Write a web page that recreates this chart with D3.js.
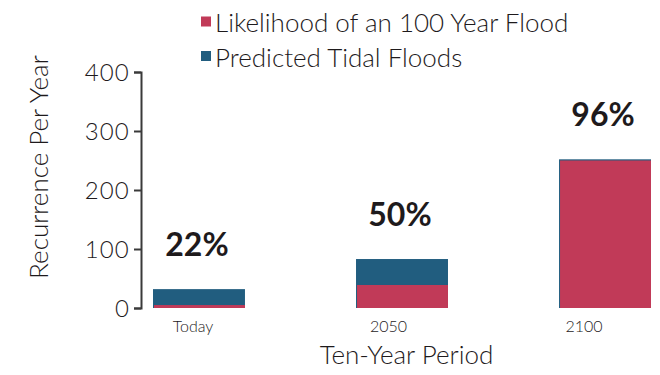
<!DOCTYPE html>
<html>
<head>
<meta charset="utf-8">
<script src="https://cdn.jsdelivr.net/npm/d3@7"></script>
<style>
  html, body { margin: 0; padding: 0; background: #fff; }
  svg { display: block; font-family: Lato, "Open Sans", sans-serif; }
</style>
</head>
<body>
<svg id="chart" width="660" height="375"></svg>
<script>
// Flood recurrence by period
const periods = ["Today", "2050", "2100"];
const tidalFloods = [32, 83, 252];        // Predicted Tidal Floods (per year)
const hundredYearFlood = [5, 39, 250];    // Likelihood of an 100 Year Flood
const shareLabels = ["22%", "50%", "96%"];
const yTicks = [0, 100, 200, 300, 400];
const seriesNames = ["Likelihood of an 100 Year Flood", "Predicted Tidal Floods"];

const RED = "#c13a58";
const BLUE = "#215d7f";
const INK = "#1e1a1c";
const FONT = "Lato, 'Open Sans', sans-serif";

const svg = d3.select("#chart");

const y = d3.scaleLinear().domain([0, 400]).range([308, 72]);
const x = d3.scaleBand().domain(periods).range([153, 651]).paddingInner(0.547).paddingOuter(0);
const xLabel = d3.scalePoint().domain(periods).range([192.5, 583.5]);

// y axis
const yAxis = svg.append("g")
  .attr("transform", "translate(141,0)")
  .call(d3.axisLeft(y).tickValues(yTicks).tickSize(7).tickPadding(4))
  .attr("font-family", FONT);
yAxis.select(".domain").attr("stroke", "#3a3a3a").attr("stroke-width", 2);
yAxis.selectAll(".tick line").attr("stroke", "#3a3a3a").attr("stroke-width", 2);
yAxis.selectAll(".tick text")
  .attr("fill", INK)
  .attr("dy", "0.36em")
  .style("font-size", "24px")
  .style("font-weight", 300)
  .style("letter-spacing", "1.2px");

// x axis labels (no line)
const xAxis = svg.append("g")
  .attr("transform", "translate(0,316)")
  .call(d3.axisBottom(xLabel).tickSize(0).tickPadding(0))
  .attr("font-family", FONT);
xAxis.select(".domain").remove();
xAxis.selectAll(".tick text")
  .attr("fill", INK)
  .attr("dy", "1em")
  .style("font-size", "16px")
  .style("font-weight", 300);

// bars: tidal floods behind, 100-year flood in front
svg.append("g").selectAll("rect")
  .data(periods)
  .join("rect")
  .attr("x", d => x(d))
  .attr("width", x.bandwidth())
  .attr("y", (d, i) => y(tidalFloods[i]))
  .attr("height", (d, i) => y(0) - y(tidalFloods[i]))
  .attr("fill", BLUE);

svg.append("g").selectAll("rect")
  .data(periods)
  .join("rect")
  .attr("x", d => x(d) + 1)
  .attr("width", x.bandwidth() - 1)
  .attr("y", (d, i) => y(hundredYearFlood[i]))
  .attr("height", (d, i) => y(0) - y(hundredYearFlood[i]))
  .attr("fill", RED);

// share labels above each bar
svg.append("g").selectAll("text")
  .data(periods)
  .join("text")
  .attr("x", d => x(d) + x.bandwidth() / 2 - 2)
  .attr("y", (d, i) => y(tidalFloods[i]) - 33)
  .attr("text-anchor", "middle")
  .attr("fill", INK)
  .style("font-size", "32px")
  .style("font-weight", 700)
  .text((d, i) => shareLabels[i]);

// axis titles
svg.append("text")
  .attr("transform", "translate(48,167) rotate(-90)")
  .attr("text-anchor", "middle")
  .attr("fill", INK)
  .style("font-size", "26px")
  .style("font-weight", 300)
  .text("Recurrence Per Year");

svg.append("text")
  .attr("x", 406.5)
  .attr("y", 364)
  .attr("text-anchor", "middle")
  .attr("fill", INK)
  .style("font-size", "26px")
  .style("font-weight", 300)
  .text("Ten-Year Period");

// legend
const legend = svg.append("g").attr("transform", "translate(201,0)");
const legendColors = [RED, BLUE];
const items = legend.selectAll("g")
  .data(seriesNames)
  .join("g")
  .attr("transform", (d, i) => `translate(0,${i * 34.5})`);
items.append("rect")
  .attr("y", 16.5).attr("width", 10).attr("height", 10)
  .attr("fill", (d, i) => legendColors[i]);
items.append("text")
  .attr("x", 14).attr("y", 32)
  .attr("fill", INK)
  .style("font-size", "26px")
  .style("font-weight", 300)
  .text(d => d);
</script>
</body>
</html>
